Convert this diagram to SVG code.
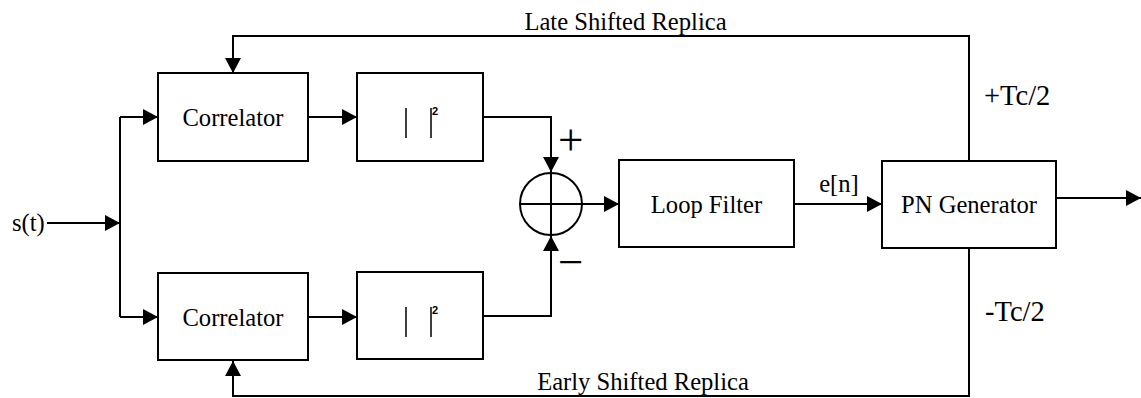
<svg xmlns="http://www.w3.org/2000/svg" width="1141" height="398" viewBox="0 0 1141 398">
<style>
.box{fill:#fff;stroke:#000;stroke-width:2}
.ln{fill:none;stroke:#000;stroke-width:2}
.arr{marker-end:url(#ah)}
.t{font-family:'Liberation Serif','Times New Roman','DejaVu Serif',serif;fill:#000}
.lbl{font-size:24.6px;text-anchor:middle}
.big{font-size:28.5px}
.sup{font-family:'Liberation Sans',Arial,sans-serif;font-size:11px;font-weight:bold}
</style>
<defs>
<marker id="ah" markerUnits="userSpaceOnUse" markerWidth="16" markerHeight="16" refX="15" refY="8" orient="auto">
<path d="M0,0 L15,8 L0,16 z" fill="#000"/>
</marker>
</defs>
<rect width="1141" height="398" fill="#fff"/>
<g id="connectors">
<path class="ln arr" d="M47,223 H120"/>
<path class="ln" d="M120,117 V317"/>
<path class="ln arr" d="M120,117 H158"/>
<path class="ln arr" d="M120,317 H158"/>
<path class="ln arr" d="M308,117 H357"/>
<path class="ln arr" d="M308,317 H357"/>
<path class="ln arr" d="M483,117 H551 V172"/>
<path class="ln arr" d="M483,316 H551 V236"/>
<path class="ln arr" d="M582,204 H619"/>
<path class="ln arr" d="M794,204 H882"/>
<path class="ln arr" d="M1056,198 H1141"/>
<path class="ln arr" d="M969,161 V36 H233 V73"/>
<path class="ln arr" d="M969,248 V396 H233 V361"/>
</g>
<g id="input-label" font-family="Liberation Serif, serif"><text class="t" x="12" y="231" font-size="24.6">s(t)</text></g>
<g id="correlator-late" font-family="Liberation Serif, serif">
<rect class="box" x="158" y="73" width="150" height="88"/>
<text class="t lbl" x="233" y="126">Correlator</text>
</g>
<g id="correlator-early" font-family="Liberation Serif, serif">
<rect class="box" x="158" y="273" width="150" height="87"/>
<text class="t lbl" x="233" y="326">Correlator</text>
</g>
<g id="square-late">
<rect class="box" x="357" y="73" width="126" height="88"/>
<path class="ln" d="M406,108 V138 M431,108 V138" style="stroke-width:1.5"/>
<text class="sup" x="432" y="115">2</text>
</g>
<g id="square-early">
<rect class="box" x="357" y="272" width="126" height="87"/>
<path class="ln" d="M406,307 V337 M431,307 V337" style="stroke-width:1.5"/>
<text class="sup" x="432" y="314">2</text>
</g>
<g id="sum" font-family="Liberation Serif, serif">
<circle class="ln" cx="551" cy="204" r="31"/>
<path class="ln" d="M520,204 H582 M551,173 V235"/>
<text class="t" x="558" y="155" font-size="45">+</text>
<text class="t" x="558" y="277" font-size="45">−</text>
</g>
<g id="loop-filter" font-family="Liberation Serif, serif">
<rect class="box" x="619" y="160" width="175" height="87"/>
<text class="t lbl" x="706.5" y="213">Loop Filter</text>
</g>
<g id="pn-generator" font-family="Liberation Serif, serif">
<rect class="box" x="882" y="161" width="174" height="87"/>
<text class="t lbl" x="969" y="213">PN Generator</text>
</g>
<g id="labels" font-family="Liberation Serif, serif">
<text class="t lbl" x="839" y="192">e[n]</text>
<text class="t lbl" x="625.5" y="30">Late Shifted Replica</text>
<text class="t lbl" x="643" y="390">Early Shifted Replica</text>
<text class="t big" x="984" y="105">+Tc/2</text>
<text class="t big" x="985" y="321">-Tc/2</text>
</g>
</svg>
